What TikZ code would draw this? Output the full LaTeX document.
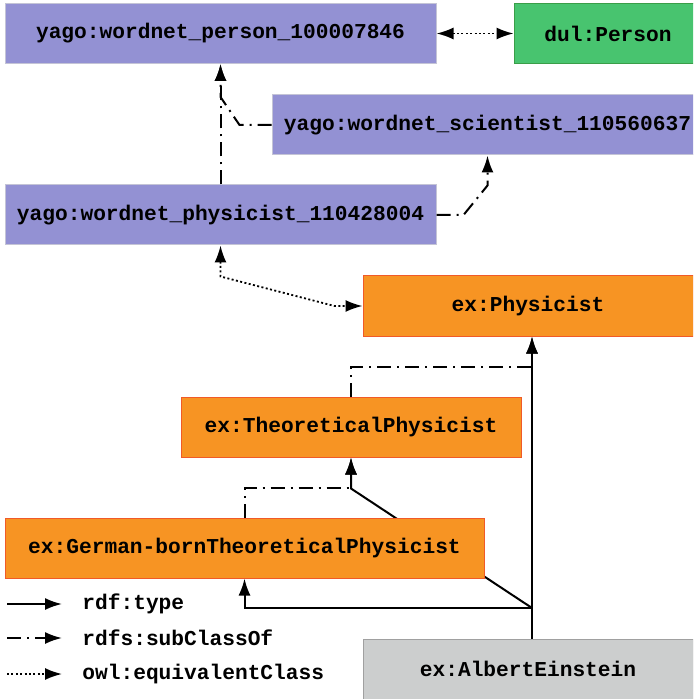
\documentclass[tikz,border=0pt]{standalone}
\usepackage{fontspec}
\setmonofont{Liberation Mono}
\usetikzlibrary{arrows.meta}
\usetikzlibrary{calc}
\usetikzlibrary{backgrounds}

\definecolor{yagoblue}{RGB}{147,145,211}
\definecolor{yagoline}{RGB}{196,196,214}
\definecolor{exorange}{RGB}{247,148,35}
\definecolor{exline}{RGB}{240,90,40}
\definecolor{dulgreen}{RGB}{72,196,111}
\definecolor{dulline}{RGB}{58,158,72}
\definecolor{instgray}{RGB}{204,206,206}
\definecolor{instline}{RGB}{160,160,160}

\begin{document}
\begin{tikzpicture}[x=0.5pt,y=-0.5pt,
  >={Latex[length=8.5pt,width=6pt]},
  every node/.style={font=\fontsize{10.6}{12}\selectfont\ttfamily\bfseries},
  box/.style={line width=0.5pt,minimum height=30pt,inner sep=0pt},
  yagobox/.style={box,fill=yagoblue,draw=yagoline,minimum width=215.5pt},
  exbox/.style={box,fill=exorange,draw=exline},
  dulbox/.style={box,fill=dulgreen,draw=dulline,minimum width=94pt},
  instbox/.style={box,fill=instgray,draw=instline,minimum width=165pt},
  legtext/.style={inner sep=0pt,anchor=west},
  rdftype/.style={->,line width=1pt},
  subcls/.style={->,line width=1pt,dash pattern=on 7pt off 3pt on 1pt off 3pt},
  equiv/.style={line width=0.9pt,dash pattern=on 1pt off 1.2pt}]

\useasboundingbox (0,0) rectangle (693,699);
\clip (0,0) rectangle (693,699);

% yago classes
\node[yagobox] (person) at (220.5,33.5) {yago:wordnet\_person\_100007846};
\node[dulbox] (dul) at (608,33.5) {dul:Person};
\node[yagobox] (sci) at (487.5,125) {yago:wordnet\_scientist\_110560637};
\node[yagobox] (phys) at (220.5,215) {yago:wordnet\_physicist\_110428004};

% ex classes
\node[exbox,minimum width=165pt] (exphys) at (528,306) {ex:Physicist};
\node[exbox,minimum width=170pt] (theo) at (351,427) {ex:TheoreticalPhysicist};
\node[exbox,minimum width=239.5pt] (german) at (244.5,548) {ex:German-bornTheoreticalPhysicist};
\node[instbox] (einstein) at (528,669) {ex:AlbertEinstein};

% equivalences
\draw[equiv,<->] (person.east) -- (dul.west);
\draw[equiv,<->] (phys.south) -- ++(0,31) -- ($(exphys.west)+(-28,0)$) -- (exphys.west);

% subclasses
\draw[subcls] (phys.north) -- (person.south);
\draw[subcls] (sci.west) -- ++(-32,0) -- ($(person.south)+(0,33)$) -- (person.south);
\draw[subcls] (phys.east) -- ++(27,0) -- ($(sci.south)+(0,30)$) -- (sci.south);
\coordinate (typ) at (532,608);
\draw[subcls] (theo.north) -- ++(0,-30) -| (exphys.south -| typ);
\draw[subcls] (german.north) -- ++(0,-30) -| (theo.south);

% types
\draw[rdftype,-] (einstein.north -| typ) -- (typ);
\draw[rdftype] (typ) -- (exphys.south -| typ);
\draw[rdftype] (typ) -| (german.south);
\begin{scope}[on background layer]
\draw[rdftype] (typ) -- ($(theo.south)+(0,31)$) -- (theo.south);
\end{scope}

% legend
\node[legtext] (lt1) at (82,604) {rdf:type};
\node[legtext] (lt2) at (82,638) {rdfs:subClassOf};
\node[legtext] (lt3) at (82,674) {owl:equivalentClass};
\coordinate (ls1) at (7,604);
\coordinate (ls2) at (7,638);
\coordinate (ls3) at (7,674);
\draw[rdftype] (ls1) -- ($(lt1.west)+(-20,0)$);
\draw[subcls] (ls2) -- ($(lt2.west)+(-20,0)$);
\draw[equiv,->] (ls3) -- ($(lt3.west)+(-20,0)$);
\end{tikzpicture}
\end{document}
